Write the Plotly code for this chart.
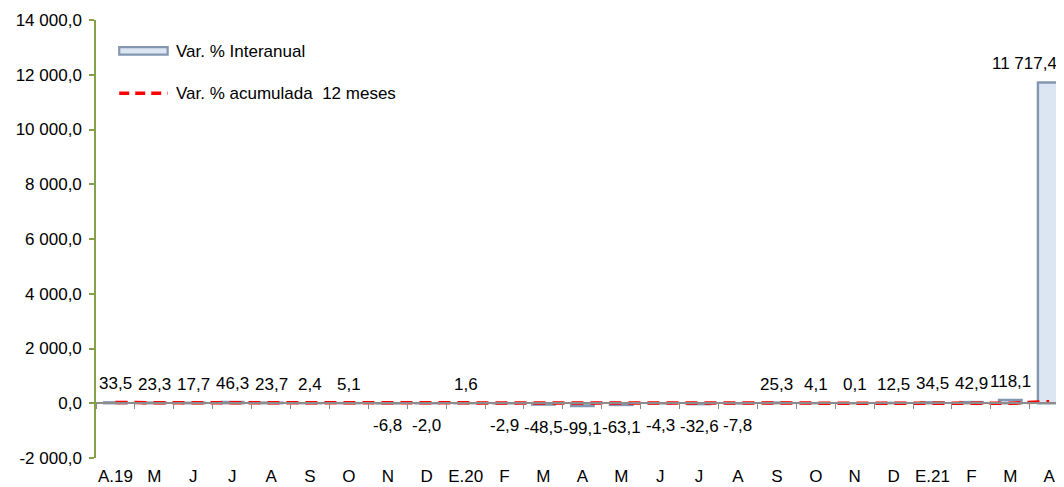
import plotly.graph_objects as go

categories = ["A.19", "M", "J", "J", "A", "S", "O", "N", "D", "E.20", "F", "M",
              "A", "M", "J", "J", "A", "S", "O", "N", "D", "E.21", "F", "M", "A"]
interanual = [33.5, 23.3, 17.7, 46.3, 23.7, 2.4, 5.1, -6.8, -2.0, 1.6, -2.9, -48.5,
              -99.1, -63.1, -4.3, -32.6, -7.8, 25.3, 4.1, 0.1, 12.5, 34.5, 42.9, 118.1, 11717.4]
acumulada = [23.5, 22.8, 21.9, 22.6, 22.7, 20.9, 19.9, 17.3, 15.6, 13.5, 12.0, 8.1,
             -3.2, -11.1, -13.2, -16.1, -17.2, -15.6, -15.6, -15.2, -14.4, -13.4, -11.1, -0.7, 56.0]
y_ticks = [-2000, 0, 2000, 4000, 6000, 8000, 10000, 12000, 14000]
names = ["Var. % Interanual", "Var. % acumulada  12 meses"]

FONT = "Liberation Sans, Arial, sans-serif"
FS = 17
BAR_FILL = "#dce6f2"
BAR_LINE = "#8497b0"
AXIS_GREEN = "#86a04c"
RED = "#ff0000"

def fmt(v):
    s = f"{v:,.1f}"
    return s.replace(",", " ").replace(".", ",")

xs = list(range(len(categories)))
y_min, y_max = y_ticks[0], y_ticks[-1]
x_range = [-0.5, len(categories) - 1 + 0.38]

fig = go.Figure()
fig.add_trace(go.Bar(
    x=xs, y=interanual, width=0.58, name=names[0],
    marker=dict(color=BAR_FILL, line=dict(color=BAR_LINE, width=2.4)),
    showlegend=False, hoverinfo="skip",
))
fig.add_trace(go.Scatter(
    x=xs, y=acumulada, mode="lines", name=names[1],
    line=dict(color=RED, width=3.5, dash="12px,7px"),
    xaxis="x2", showlegend=False, hoverinfo="skip",
))

annotations = []
last = len(xs) - 1
for x, v in zip(xs, interanual):
    ann = dict(
        x=x, y=v, xref="x", yref="y", text=fmt(v), showarrow=False,
        yanchor="bottom" if v >= 0 else "top",
        yshift=7 if v >= 0 else -11,
        font=dict(family=FONT, size=FS, color="#000000"),
    )
    if x == last:
        # keep the last label inside the chart, as in the original
        ann.update(xanchor="right", xshift=10)
    annotations.append(ann)

# custom legend (top-left, inside plot area)
annotations += [
    dict(x=0.081, y=0.929, xref="paper", yref="paper", text=names[0], showarrow=False,
         xanchor="left", yanchor="middle", font=dict(family=FONT, size=FS, color="#000000")),
    dict(x=0.081, y=0.833, xref="paper", yref="paper", text=names[1], showarrow=False,
         xanchor="left", yanchor="middle", font=dict(family=FONT, size=FS, color="#000000")),
]
shapes = [
    dict(type="rect", xref="paper", yref="paper", x0=0.024, x1=0.074, y0=0.921, y1=0.938,
         fillcolor=BAR_FILL, line=dict(color=BAR_LINE, width=2.2)),
    dict(type="line", xref="paper", yref="paper", x0=0.024, x1=0.074, y0=0.833, y1=0.833,
         line=dict(color=RED, width=3.5, dash="10px,6px")),
]

zero_pos = (0 - y_min) / (y_max - y_min)

fig.update_layout(
    width=1056, height=479,
    margin=dict(l=88, r=0, t=12, b=29),
    paper_bgcolor="white", plot_bgcolor="white",
    font=dict(family=FONT, size=FS, color="#000000"),
    xaxis=dict(
        range=x_range, tickmode="array", tickvals=xs, ticktext=categories,
        showline=False, ticks="", showgrid=False, zeroline=False,
        ticklabelstandoff=6, tickfont=dict(size=FS),
    ),
    xaxis2=dict(
        range=x_range, overlaying="x", anchor="free", position=zero_pos, side="bottom",
        tickmode="array", tickvals=[i - 0.5 for i in xs], showticklabels=False,
        ticks="outside", ticklen=5, tickcolor="#8c8c8c", tickwidth=1,
        showline=True, linecolor="#8c8c8c", linewidth=1.5, showgrid=False, zeroline=False,
    ),
    yaxis=dict(
        range=[y_min, y_max], tickmode="array", tickvals=y_ticks,
        ticktext=[fmt(t) for t in y_ticks],
        showline=True, linecolor=AXIS_GREEN, linewidth=1.5,
        ticks="outside", ticklen=5, tickcolor=AXIS_GREEN, tickwidth=1.5,
        showgrid=False, zeroline=False, tickfont=dict(size=FS), ticklabelstandoff=4,
    ),
    annotations=annotations, shapes=shapes, showlegend=False,
)

fig.write_html("out.html")
